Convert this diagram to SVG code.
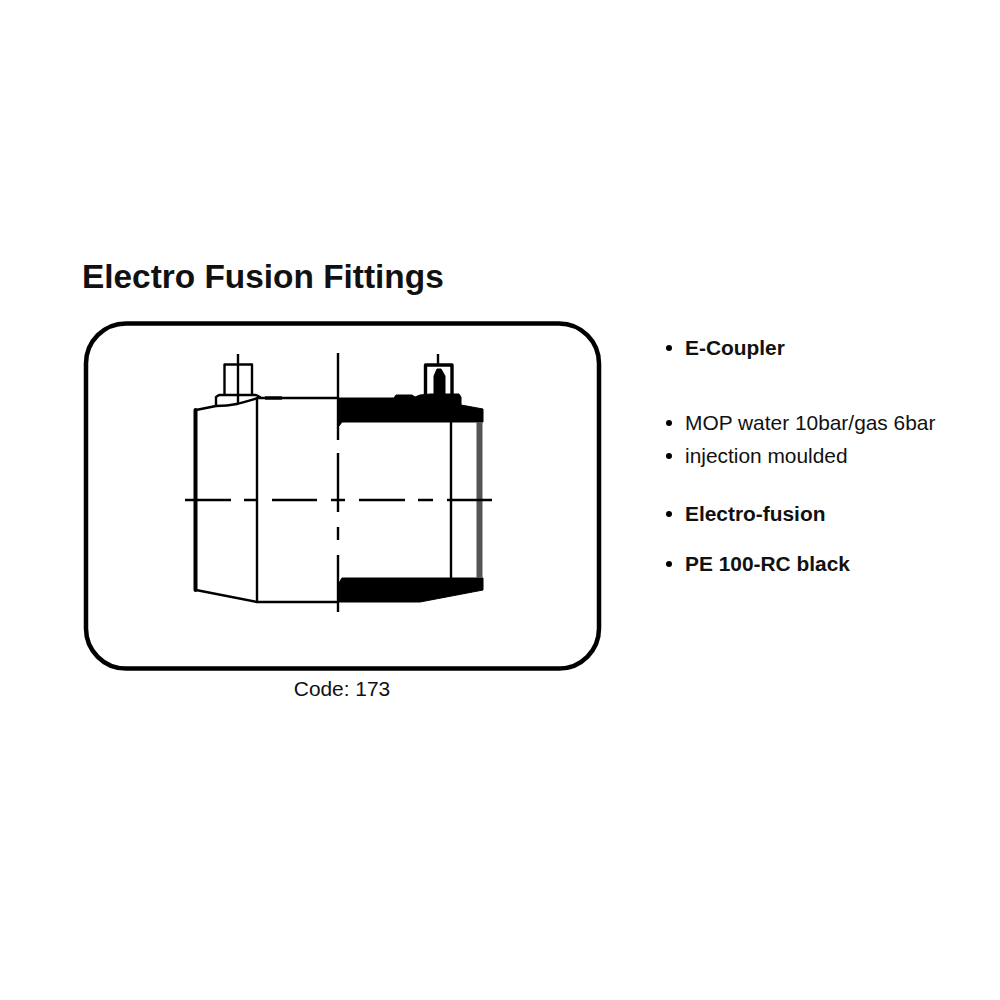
<svg xmlns="http://www.w3.org/2000/svg" width="1000" height="1000" viewBox="0 0 1000 1000">
<style>
text{font-family:"Liberation Sans",Arial,sans-serif;fill:#111}
.b{font-weight:bold;font-size:20.900px}
.r{font-size:20.900px}
.l{fill:none;stroke:#000;stroke-width:2.400;stroke-linejoin:round}
.m{fill:none;stroke:#000;stroke-width:3.400;stroke-linejoin:round}
.f{fill:#000;stroke:#000;stroke-width:1;stroke-linejoin:round}
</style>
<rect width="1000" height="1000" fill="#fff"/>
<g id="title"><text x="82" y="288" font-size="33.400" font-weight="bold">Electro Fusion Fittings</text></g>
<g id="frame"><rect x="86" y="323.500" width="513" height="345" rx="40" ry="40" fill="none" stroke="#000" stroke-width="4.500"/></g>
<g id="fitting">
<path class="l" d="M257 602L196 590M196 410L216 406"/>
<path d="M195.500 410V590" fill="none" stroke="#000" stroke-width="4" stroke-linecap="round"/>
<path class="l" d="M257 397V602H338M258 398H338M216 406C235 406 245 402 258 398"/>
<path class="m" d="M265 398H282"/>
<path class="l" d="M224.500 395V364.500H252V395"/>
<path class="l" d="M216 405V397L219 395H256L260 397V399"/>
<path class="l" d="M238 354V404"/>
<path class="f" d="M338 398H394L396 395H412L415 397L420 395L430 394H459L461 397V405L483 409V422H342L339 426Z"/>
<path class="m" d="M425.500 395V365H452V395"/>
<path class="f" d="M434 395V376L437 369H441L445 376V395Z"/>
<path class="l" d="M438 354V365"/>
<path class="f" d="M339 583L342 578H483V590L420 602H338Z"/>
<path class="l" d="M451 422V578"/>
<path d="M479.500 422V578" fill="none" stroke="#555" stroke-width="6"/>
<path class="l" d="M338 353V440M338 453V512M338 527V540M338 555V612"/>
<path class="l" d="M185 500H231M244 500H258M272 500H317M331 500H345M359 500H405M418 500H433M447 500H492"/>
</g>
<g id="code"><text class="r" x="342" y="696" text-anchor="middle">Code: 173</text></g>
<g id="bullets">
<circle cx="669" cy="348" r="3"/><text class="b" x="685" y="355">E-Coupler</text>
<circle cx="669" cy="423" r="3"/><text class="r" x="685" y="430">MOP water 10bar/gas 6bar</text>
<circle cx="669" cy="456" r="3"/><text class="r" x="685" y="463">injection moulded</text>
<circle cx="669" cy="514" r="3"/><text class="b" x="685" y="521">Electro-fusion</text>
<circle cx="669" cy="564" r="3"/><text class="b" x="685" y="571">PE 100-RC black</text>
</g>
</svg>
